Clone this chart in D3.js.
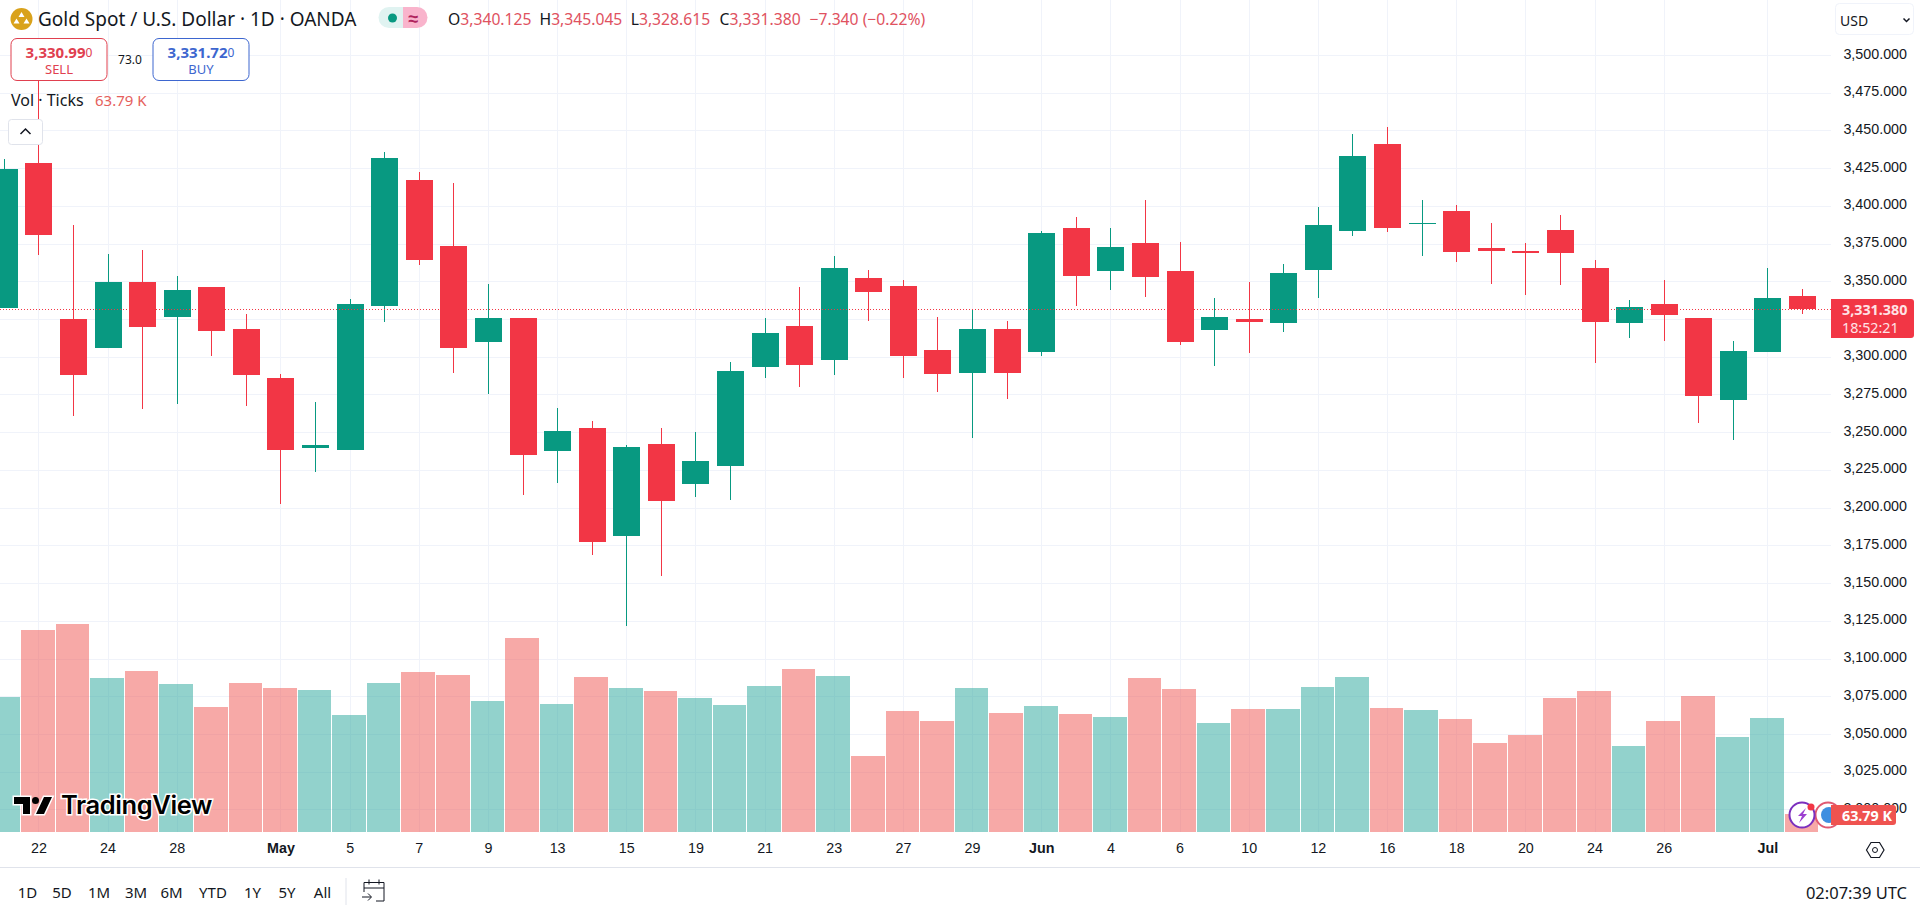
<!DOCTYPE html>
<html>
<head>
<meta charset="utf-8">
<title>Gold Spot / U.S. Dollar</title>
<script src="https://cdn.jsdelivr.net/npm/d3@7"></script>
<style>
  html, body { margin: 0; padding: 0; background: #fff; overflow: hidden; }
  svg { display: block; font-family: "Noto Sans", sans-serif; }
  .axis text { font-size: 14.3px; fill: #131722; }
  .axis .domain, .axis line { display: none; }
</style>
</head>
<body>
<svg id="chart" width="1920" height="912"></svg>
<script>
// daily candles, 21 Apr - 2 Jul
const dates = ['Apr 21','Apr 22','Apr 23','Apr 24','Apr 25','Apr 28','Apr 29','Apr 30','May 1','May 2','May 5','May 6','May 7','May 8','May 9','May 12','May 13','May 14','May 15','May 16','May 19','May 20','May 21','May 22','May 23','May 26','May 27','May 28','May 29','May 30','Jun 2','Jun 3','Jun 4','Jun 5','Jun 6','Jun 9','Jun 10','Jun 11','Jun 12','Jun 13','Jun 16','Jun 17','Jun 18','Jun 19','Jun 20','Jun 23','Jun 24','Jun 25','Jun 26','Jun 27','Jun 30','Jul 1','Jul 2'];
const opens = [3332.6,3428.5,3325.0,3306.1,3349.4,3326.5,3346.1,3318.4,3286.0,3239.8,3238.4,3333.8,3417.1,3373.3,3309.9,3325.8,3237.7,3252.8,3181.4,3242.2,3215.9,3227.8,3292.9,3320.3,3298.1,3352.3,3346.8,3304.5,3289.5,3318.4,3303.3,3385.4,3357.0,3375.5,3356.8,3317.9,3325.0,3322.6,3357.7,3383.5,3441.0,3388.2,3396.6,3372.1,3370.1,3384.0,3358.8,3322.6,3335.0,3325.7,3271.5,3303.4,3340.125];
const highs = [3431.1,3500.0,3387.3,3368.1,3370.7,3353.5,3346.1,3328.6,3288.3,3269.9,3338.1,3435.6,3422.3,3415.2,3348.2,3325.8,3266.1,3257.3,3241.7,3252.8,3250.0,3296.4,3325.5,3346.1,3366.7,3357.2,3350.6,3326.2,3331.2,3323.6,3383.3,3392.5,3385.4,3403.9,3375.9,3339.0,3349.4,3361.5,3399.2,3447.6,3452.0,3403.9,3400.3,3388.6,3375.4,3393.9,3363.9,3337.6,3350.6,3325.7,3310.2,3358.8,3345.045];
const lows = [3332.0,3367.6,3260.9,3306.1,3265.4,3268.7,3300.4,3267.3,3202.7,3223.7,3238.4,3323.1,3361.0,3289.3,3275.3,3208.3,3216.4,3168.6,3121.7,3154.9,3207.2,3205.3,3286.2,3280.1,3288.1,3323.9,3286.2,3276.8,3246.4,3272.3,3300.4,3333.6,3344.2,3339.5,3307.8,3293.8,3302.6,3316.4,3338.9,3380.0,3382.9,3367.0,3363.0,3348.4,3341.1,3347.8,3295.8,3312.6,3310.6,3256.3,3245.0,3303.4,3328.615];
const closes = [3424.5,3380.9,3288.1,3349.4,3319.4,3344.2,3317.2,3288.1,3238.4,3241.5,3335.0,3431.8,3364.3,3306.1,3325.8,3235.1,3250.7,3177.3,3240.0,3204.6,3230.8,3290.5,3315.8,3294.7,3358.9,3342.6,3300.7,3288.8,3318.4,3289.5,3382.1,3353.7,3372.6,3353.0,3309.9,3326.2,3322.7,3355.5,3387.3,3433.0,3385.5,3388.6,3369.6,3370.1,3369.0,3368.7,3323.2,3333.0,3327.9,3274.2,3303.8,3338.9,3331.38];
const volumes = [486.3,728.2,749.8,554.9,580.1,533.2,450.1,536.8,518.8,511.5,421.3,536.8,576.5,565.7,471.8,699.3,461.0,558.5,518.8,507.9,482.6,457.4,526.0,587.4,562.1,273.2,435.7,399.6,518.8,428.5,453.8,424.9,414.0,554.9,515.1,392.4,442.9,442.9,522.4,558.5,446.5,439.3,406.8,320.2,349.0,482.6,507.9,309.3,399.6,489.9,341.8,410.4,63.79];

const priceTicks = [3500,3475,3450,3425,3400,3375,3350,3325,3300,3275,3250,3225,3200,3175,3150,3125,3100,3075,3050,3025,3000];
const timeTickDates = ['Apr 22','Apr 24','Apr 28','May 1','May 5','May 7','May 9','May 13','May 15','May 19','May 21','May 23','May 27','May 29','Jun 2','Jun 4','Jun 6','Jun 10','Jun 12','Jun 16','Jun 18','Jun 20','Jun 24','Jun 26','Jul 1'];
const timeTickLabels = ['22','24','28','May','5','7','9','13','15','19','21','23','27','29','Jun','4','6','10','12','16','18','20','24','26','Jul'];
const rangeButtons = ['1D','5D','1M','3M','6M','YTD','1Y','5Y','All'];
const lastPrice = 3331.38;

const upColor = '#089981', downColor = '#f23645';
const textColor = '#131722', gridColor = '#f0f3fa';
const paneRight = 1831, paneBottom = 832;

const svg = d3.select('#chart');

const x = d3.scaleLinear().domain([0, dates.length - 1]).range([3.82, 1801.98]);
const y = d3.scaleLinear().domain([3000, 3500]).range([809.4, 54.96]);
const yVol = d3.scaleLinear().domain([0, 750]).range([paneBottom, 623.9]);

const barStep = x(1) - x(0);
const isUp = (i) => closes[i] >= opens[i];
const idx = d3.range(dates.length);

// grid
const tickIdx = timeTickDates.map((d) => dates.indexOf(d));
svg.append('g').selectAll('line').data(priceTicks).join('line')
  .attr('x1', 0).attr('x2', paneRight)
  .attr('y1', (d) => Math.round(y(d)) + 0.5).attr('y2', (d) => Math.round(y(d)) + 0.5)
  .attr('stroke', gridColor);
svg.append('g').selectAll('line').data(tickIdx).join('line')
  .attr('y1', 0).attr('y2', paneBottom)
  .attr('x1', (i) => Math.round(x(i)) + 0.5).attr('x2', (i) => Math.round(x(i)) + 0.5)
  .attr('stroke', gridColor);

// volume
svg.append('g').selectAll('rect').data(idx).join('rect')
  .attr('x', (i) => Math.round(x(i) - barStep / 2))
  .attr('width', (i) => Math.round(x(i) + barStep / 2) - Math.round(x(i) - barStep / 2) - 1)
  .attr('y', (i) => yVol(volumes[i]))
  .attr('height', (i) => yVol(0) - yVol(volumes[i]))
  .attr('fill', (i) => (isUp(i) ? '#26a69a' : '#ef5350'))
  .attr('fill-opacity', 0.5)
  .attr('shape-rendering', 'crispEdges');

// candles
const candles = svg.append('g').attr('shape-rendering', 'crispEdges');
candles.selectAll('line').data(idx).join('line')
  .attr('x1', (i) => Math.round(x(i)) + 0.5).attr('x2', (i) => Math.round(x(i)) + 0.5)
  .attr('y1', (i) => y(highs[i])).attr('y2', (i) => y(lows[i]))
  .attr('stroke', (i) => (isUp(i) ? upColor : downColor));
candles.selectAll('rect').data(idx).join('rect')
  .attr('x', (i) => Math.round(x(i)) - 13)
  .attr('width', 27)
  .attr('y', (i) => y(Math.max(opens[i], closes[i])))
  .attr('height', (i) => Math.max(1, Math.abs(y(opens[i]) - y(closes[i]))))
  .attr('fill', (i) => (isUp(i) ? upColor : downColor));

// last price line
svg.append('line')
  .attr('x1', 0).attr('x2', paneRight)
  .attr('y1', Math.round(y(lastPrice)) + 0.5).attr('y2', Math.round(y(lastPrice)) + 0.5)
  .attr('stroke', downColor).attr('stroke-dasharray', '1 2')
  .attr('shape-rendering', 'crispEdges');

// axes, 3325 sits behind the last price tag so it gets no label
svg.append('g').attr('class', 'axis')
  .attr('transform', 'translate(1907,-1.5)')
  .call(d3.axisRight(y).tickValues(priceTicks.filter((d) => d !== 3325)).tickSize(0).tickPadding(0).tickFormat(d3.format(',.3f')))
  .selectAll('text').attr('text-anchor', 'end');
svg.append('g').attr('class', 'axis')
  .attr('transform', 'translate(0,843)')
  .call(d3.axisBottom(x).tickValues(tickIdx).tickSize(0).tickPadding(0)
    .tickFormat((d, i) => timeTickLabels[i]))
  .selectAll('text')
  .attr('font-weight', (d, i) => (/[A-Z]/.test(timeTickLabels[i]) ? 600 : 400));

svg.append('line').attr('x1', 0).attr('x2', 1920).attr('y1', 867.5).attr('y2', 867.5).attr('stroke', '#e0e3eb');

function label(txt, lx, ly, opts = {}) {
  return svg.append('text')
    .attr('x', lx).attr('y', ly)
    .attr('dominant-baseline', 'central')
    .attr('text-anchor', opts.anchor || 'start')
    .attr('font-size', opts.size || 13)
    .attr('font-weight', opts.weight || 400)
    .attr('fill', opts.fill || textColor)
    .text(txt);
}

// header
svg.append('circle').attr('cx', 21.5).attr('cy', 19).attr('r', 11).attr('fill', '#d9a21b');
svg.append('path').attr('d', 'M21.5 12l3 5h-6zM16.5 18.5l3 5h-6zM26.5 18.5l3 5h-6z').attr('fill', '#fff');
label('Gold Spot / U.S. Dollar · 1D · OANDA', 38, 19, { size: 19 });

svg.append('path').attr('d', 'M403 7h-14a10.500 10.500 0 0 0 0 21h14z').attr('fill', '#e0f3f1');
svg.append('path').attr('d', 'M403 7h14a10.500 10.500 0 0 1 0 21h-14z').attr('fill', '#f9b4cc');
svg.append('circle').attr('cx', 392.500).attr('cy', 18).attr('r', 4.500).attr('fill', '#089981');
label('≈', 413.500, 17.500, { size: 18, weight: 700, anchor: 'middle', fill: '#b0245c' });

const ohlcRed = '#e0525f';
[['O', '3,340.125', 448], ['H', '3,345.045', 539.5], ['L', '3,328.615', 630.7], ['C', '3,331.380', 719.5]].forEach(([k, v, lx]) => {
  const t = label(k, lx, 19, { size: 15.700 });
  t.append('tspan').attr('fill', ohlcRed).text(v);
});
label('−7.340 (−0.22%)', 809.5, 19, { size: 15.700, fill: ohlcRed });

// sell / buy boxes
function tradeBox(bx, col, price, small, word) {
  svg.append('rect').attr('x', bx + 0.5).attr('y', 38.5).attr('width', 96).attr('height', 42).attr('rx', 6)
    .attr('fill', '#fff').attr('stroke', col);
  const t = label(price, bx + 48.5, 52, { size: 15, weight: 700, anchor: 'middle', fill: col });
  t.append('tspan').attr('font-size', 12).attr('font-weight', 400).text(small);
  label(word, bx + 48.5, 69, { size: 13, anchor: 'middle', fill: col });
}
tradeBox(10.500, '#e0404f', '3,330.99', '0', 'SELL');
label('73.0', 130, 59, { size: 12, anchor: 'middle' });
tradeBox(152.500, '#3d66cf', '3,331.72', '0', 'BUY');

label('Vol · Ticks', 11, 100, { size: 16 });
label('63.79 K', 95, 100, { size: 15, fill: '#e5605c' });

// collapse button
svg.append('rect').attr('x', 8.500).attr('y', 119.500).attr('width', 34).attr('height', 25).attr('rx', 3)
  .attr('fill', '#fff').attr('stroke', '#e0e3eb');
svg.append('path').attr('d', 'M20.500 134l5-5 5 5').attr('fill', 'none').attr('stroke', textColor).attr('stroke-width', 1.500);

// currency selector
svg.append('rect').attr('x', 1835.500).attr('y', 3.500).attr('width', 78).attr('height', 31).attr('rx', 4)
  .attr('fill', '#fff').attr('stroke', '#f0f3fa');
label('USD', 1840, 20, { size: 14 });
svg.append('path').attr('d', 'M1903.500 18.500l3 3 3-3').attr('fill', 'none').attr('stroke', textColor).attr('stroke-width', 1.500);

// event icons on the volume pane
svg.append('circle').attr('cx', 1828).attr('cy', 815).attr('r', 12.500).attr('fill', '#fff').attr('stroke', '#e05a72').attr('stroke-width', 2);
svg.append('circle').attr('cx', 1829).attr('cy', 815).attr('r', 8).attr('fill', '#3f8fe0');
svg.append('circle').attr('cx', 1802).attr('cy', 815).attr('r', 12.500).attr('fill', '#fff').attr('stroke', '#7b2fbe').attr('stroke-width', 2);
svg.append('path').attr('d', 'M1806 808l-8 8h4l-3 7 8-9h-4z').attr('fill', '#9c3fd0');
svg.append('circle').attr('cx', 1811).attr('cy', 807).attr('r', 3.500).attr('fill', '#f23645');

// price and volume tags
svg.append('path').attr('d', 'M1831 299h80a3 3 0 0 1 3 3v33a3 3 0 0 1-3 3h-80z').attr('fill', downColor);
label('3,331.380', 1842, 309, { size: 14.300, weight: 700, fill: '#ffe3e5' });
label('18:52:21', 1842, 327, { size: 14.300, fill: '#ffe3e5' });
svg.append('path').attr('d', 'M1831 805h62a3 3 0 0 1 3 3v14a3 3 0 0 1-3 3h-62z').attr('fill', '#ef5350');
label('63.79 K', 1842, 815, { size: 14.300, weight: 700, fill: '#fff' });

// TradingView watermark
const logo = svg.append('g');
logo.append('path')
  .attr('d', 'M14 797h16v17h-7v-10h-9zM44 797h8l-8 17h-8z')
  .attr('fill', '#000').attr('stroke', '#fff').attr('stroke-width', 3).attr('paint-order', 'stroke');
logo.append('circle').attr('cx', 35.500).attr('cy', 800.500).attr('r', 3.500).attr('fill', '#000');
logo.append('text').attr('x', 61).attr('y', 814)
  .attr('font-family', 'Inter, sans-serif').attr('font-size', 25.500).attr('font-weight', 600)
  .attr('letter-spacing', -0.4)
  .attr('fill', '#000').attr('stroke', '#fff').attr('stroke-width', 3).attr('paint-order', 'stroke')
  .text('TradingView');

// range bar
const rangeX = [27.500, 62, 99, 136, 171.500, 213, 252.500, 287, 322.500];
rangeButtons.forEach((b, i) => label(b, rangeX[i], 892, { size: 15, anchor: 'middle' }));
svg.append('line').attr('x1', 346).attr('x2', 346).attr('y1', 878).attr('y2', 905).attr('stroke', '#e0e3eb');
svg.append('path')
  .attr('d', 'M364 892v-9.500h20v18.500h-8M364 888h20M369 879.500v5M379 879.500v5M362 897h9M368 893.500l3.500 3.500-3.500 3.500')
  .attr('fill', 'none').attr('stroke', textColor);

// settings hexagon and clock
svg.append('path').attr('d', 'M1866.500 850l4.500-7.500h8.500l4.500 7.500-4.500 7.500h-8.500z').attr('fill', 'none').attr('stroke', textColor).attr('stroke-width', 1.200);
svg.append('circle').attr('cx', 1875).attr('cy', 850).attr('r', 2.500).attr('fill', 'none').attr('stroke', textColor);
label('02:07:39 UTC', 1907, 892, { size: 16.500, anchor: 'end' });
</script>
</body>
</html>
